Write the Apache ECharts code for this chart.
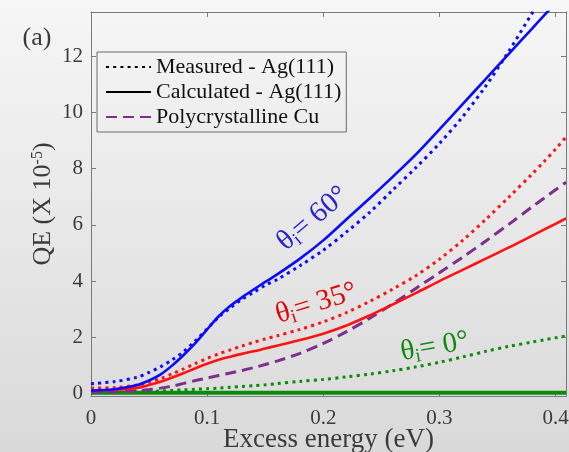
<!DOCTYPE html>
<html><head><meta charset="utf-8">
<script src="https://cdn.jsdelivr.net/npm/echarts@6.0.0/dist/echarts.min.js"></script>
<style>html,body{margin:0;padding:0;background:#e6e6e6;}#c{width:569px;height:452px;}</style>
</head><body><div id="c"></div>
<script>
// ---- data ----
const energy = [0,0.02,0.04,0.05,0.06,0.07,0.08,0.09,0.10,0.11,0.12,0.13,0.14,0.15,0.16,0.18,0.20,0.22,0.24,0.26,0.28,0.30,0.32,0.34,0.36,0.38,0.39,0.40,0.409];
const calc60 = [0.10,0.15,0.30,0.46,0.68,1.00,1.38,1.80,2.28,2.75,3.12,3.42,3.70,3.97,4.23,4.80,5.45,6.20,6.95,7.72,8.52,9.40,10.30,11.20,12.10,13.00,13.45,13.90,14.30];
const meas60 = [0.35,0.42,0.58,0.75,0.95,1.20,1.50,1.88,2.30,2.72,3.05,3.35,3.60,3.85,4.05,4.55,5.10,5.75,6.45,7.25,8.05,8.90,9.85,10.95,12.20,13.55,14.20,14.90,15.50];
const calc35 = [0.10,0.13,0.20,0.30,0.42,0.57,0.73,0.90,1.06,1.20,1.31,1.41,1.50,1.60,1.70,1.90,2.13,2.42,2.78,3.17,3.58,4.00,4.40,4.80,5.20,5.62,5.83,6.04,6.23];
const meas35 = [0.19,0.21,0.30,0.40,0.53,0.70,0.88,1.07,1.25,1.41,1.55,1.69,1.82,1.94,2.05,2.28,2.55,2.88,3.28,3.72,4.20,4.78,5.45,6.20,7.00,7.82,8.25,8.70,9.13];
const cuPoly = [0.05,0.06,0.10,0.14,0.19,0.26,0.36,0.46,0.55,0.64,0.73,0.82,0.92,1.03,1.15,1.43,1.78,2.20,2.68,3.20,3.75,4.30,4.85,5.43,6.03,6.65,6.95,7.25,7.52];
const meas0 = [0.02,0.03,0.06,0.07,0.09,0.11,0.13,0.15,0.17,0.19,0.22,0.25,0.28,0.31,0.35,0.43,0.50,0.59,0.69,0.81,0.95,1.11,1.30,1.50,1.68,1.83,1.91,1.98,2.05];
const calc0 = [0.03,0.03,0.03,0.03,0.03,0.03,0.03,0.03,0.03,0.03,0.03,0.03,0.03,0.03,0.03,0.03,0.03,0.03,0.03,0.03,0.03,0.03,0.03,0.03,0.03,0.03,0.03,0.03,0.03];
const xTicks = [0,0.1,0.2,0.3,0.4];
const yTicks = [0,2,4,6,8,10,12];
const legendNames = ['Measured - Ag(111)','Calculated - Ag(111)','Polycrystalline Cu'];
const angleLabels = ['60','35','0'];

// ---- chart ----
const SERIF = '"Liberation Serif","Times New Roman",serif';
const AX = '#7a7a7a', TXT = '#3a3a3a';
const BLUE = '#0a0aff', RED = '#ff1212', GREEN = '#0d8a0d', PURPLE = '#7e2f8e';
const DOT = [3, 4.2], DASH = [11, 6];
const pts = arr => arr.map((v, i) => [energy[i], v]);

function line(name, arr, color, type, width, z) {
  return { name, type: 'line', data: arr ? pts(arr) : [], symbol: 'none', smooth: 0.3,
    silent: true, animation: false, z: z || 2, clip: true,
    itemStyle: { color, opacity: 0 }, lineStyle: { color, width, type, cap: 'butt', opacity: 1 } };
}

const chart = echarts.init(document.getElementById('c'), null, { renderer: 'canvas' });
const axisCommon = {
  type: 'value', splitLine: { show: false }, nameMoveOverlap: false,
  axisLine: { show: true, onZero: false, lineStyle: { color: AX, width: 1 } },
};
chart.setOption({
  animation: false,
  backgroundColor: new echarts.graphic.LinearGradient(0, 0, 0, 1, [
    { offset: 0, color: '#f6f6f6' }, { offset: 1, color: '#d9d9d9' }]),
  grid: { left: 91, right: 3, top: 12, bottom: 56, containLabel: false, outerBoundsMode: 'none' },
  xAxis: [
    Object.assign({}, axisCommon, { position: 'bottom', min: 0, max: 0.409,
      axisTick: { inside: true, length: 5, customValues: xTicks, lineStyle: { color: AX } },
      axisLabel: { customValues: xTicks, margin: 12, fontFamily: SERIF, fontSize: 21, color: TXT, formatter: v => String(v) },
      name: 'Excess energy (eV)', nameLocation: 'middle', nameGap: 30,
      nameTextStyle: { fontFamily: SERIF, fontSize: 27, color: TXT } }),
    Object.assign({}, axisCommon, { position: 'top', min: 0, max: 0.409,
      axisTick: { inside: true, length: 5, customValues: xTicks, lineStyle: { color: AX } },
      axisLabel: { show: false } })
  ],
  yAxis: [
    Object.assign({}, axisCommon, { position: 'left', min: -0.09, max: 13.58,
      axisTick: { inside: true, length: 5, customValues: yTicks, lineStyle: { color: AX } },
      axisLabel: { customValues: yTicks, margin: 8, fontFamily: SERIF, fontSize: 21, color: TXT },
      name: '{a|QE (X 10}{b|-5}{a|)}', nameLocation: 'middle', nameRotate: 90, nameGap: 35,
      nameTextStyle: { rich: {
        a: { fontFamily: SERIF, fontSize: 26, color: TXT },
        b: { fontFamily: SERIF, fontSize: 16, color: TXT, verticalAlign: 'top' } } } }),
    Object.assign({}, axisCommon, { position: 'right', min: -0.09, max: 13.58,
      axisTick: { inside: true, length: 5, customValues: yTicks, lineStyle: { color: AX } },
      axisLabel: { show: false } })
  ],
  legend: { data: legendNames, orient: 'vertical', left: 97, top: 52,
    itemWidth: 45, itemHeight: 14, itemGap: 3, padding: [4, 5, 4, 8],
    borderColor: '#6a6a6a', borderWidth: 1, selectedMode: false,
    itemStyle: { opacity: 0 },
    textStyle: { fontFamily: SERIF, fontSize: 22, color: '#111', lineHeight: 22 } },
  series: [
    line(legendNames[0], null, '#000', DOT, 3),
    line(legendNames[1], null, '#000', 'solid', 3),
    line('calc0', calc0, GREEN, 'solid', 4, 1),
    line('meas0', meas0, GREEN, DOT, 3),
    line(legendNames[2], cuPoly, PURPLE, DASH, 3),
    line('meas35', meas35, RED, DOT, 3),
    line('calc35', calc35, RED, 'solid', 2.6),
    line('meas60', meas60, BLUE, DOT, 3),
    line('calc60', calc60, BLUE, 'solid', 2.6)
  ]
});

function angleText(label, dataPos, rotDeg, color) {
  const p = chart.convertToPixel({ xAxisIndex: 0, yAxisIndex: 0 }, dataPos);
  return { type: 'text', x: p[0], y: p[1], rotation: rotDeg * Math.PI / 180, z: 10, silent: true,
    style: { text: '{t|θ}{s|i}{t|= ' + label + '°}', align: 'center', verticalAlign: 'middle',
      rich: {
        t: { fontFamily: SERIF, fontSize: 29, fill: color, lineHeight: 32 },
        s: { fontFamily: SERIF, fontSize: 19, fill: color, verticalAlign: 'bottom', lineHeight: 32 } } } };
}
chart.setOption({ graphic: [
  { type: 'text', x: 37, y: 38, silent: true,
    style: { text: '(a)', fontFamily: SERIF, fontSize: 26, fill: TXT, align: 'center', verticalAlign: 'middle' } },
  angleText(angleLabels[0], [0.191, 6.22], 40, '#2a22cc'),
  angleText(angleLabels[1], [0.194, 3.2], 17, '#dd0808'),
  angleText(angleLabels[2], [0.296, 1.66], 10, '#118811')
] });
</script></body></html>
